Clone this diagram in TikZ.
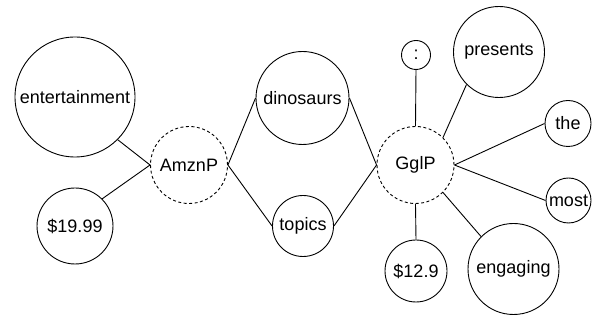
\documentclass[tikz,border=0pt]{standalone}
\usepackage{fontspec}
\setmainfont{Liberation Sans}
\begin{document}
\begin{tikzpicture}[x=1pt,y=-1pt,line width=0.9pt,
		word/.style={draw,circle,inner sep=0pt,font=\fontsize{18}{18}\selectfont},
		party/.style={word,dash pattern=on 3pt off 2.5pt,minimum size=77pt}]
	\useasboundingbox (0,0) rectangle (595,320);
	\node[word,minimum size=120pt] (ent) at (75,97) {entertainment};
	\node[word,minimum size=76pt] (price1) at (75,226) {\$19.99};
	\node[party] (amzn) at (189,165) {AmznP};
	\node[word,minimum size=93pt] (dino) at (302.5,98) {dinosaurs};
	\node[word,minimum size=61pt] (topics) at (303,226) {topics};
	\node[party] (ggl) at (415.5,165) {GglP};
	\node[word,minimum size=29pt] (colon) at (416,55) {:};
	\node[word,minimum size=91pt] (pres) at (499,52) {presents};
	\node[word,minimum size=46pt] (the) at (568,123.5) {the};
	\node[word,minimum size=45pt] (most) at (568.5,200.5) {most};
	\node[word,minimum size=62pt] (price2) at (416,271) {\$12.9};
	\node[word,minimum size=91pt] (eng) at (513.5,269) {engaging};
	\draw (ent.south east)--(amzn.west)--(price1.north east);
	\draw (dino.west)--(amzn.east)--(topics.west);
	\draw (dino.east)--(ggl.west)--(topics.east);
	\draw (ggl.north)--(colon.south);
	\draw (ggl.north east)--(pres.south west);
	\foreach \w in {the,most}{
		\draw (ggl.east)--(\w.west);
	}
	\draw (ggl.south)--(price2.north);
	\draw (ggl.south east)--(eng.north west);
\end{tikzpicture}
\end{document}
